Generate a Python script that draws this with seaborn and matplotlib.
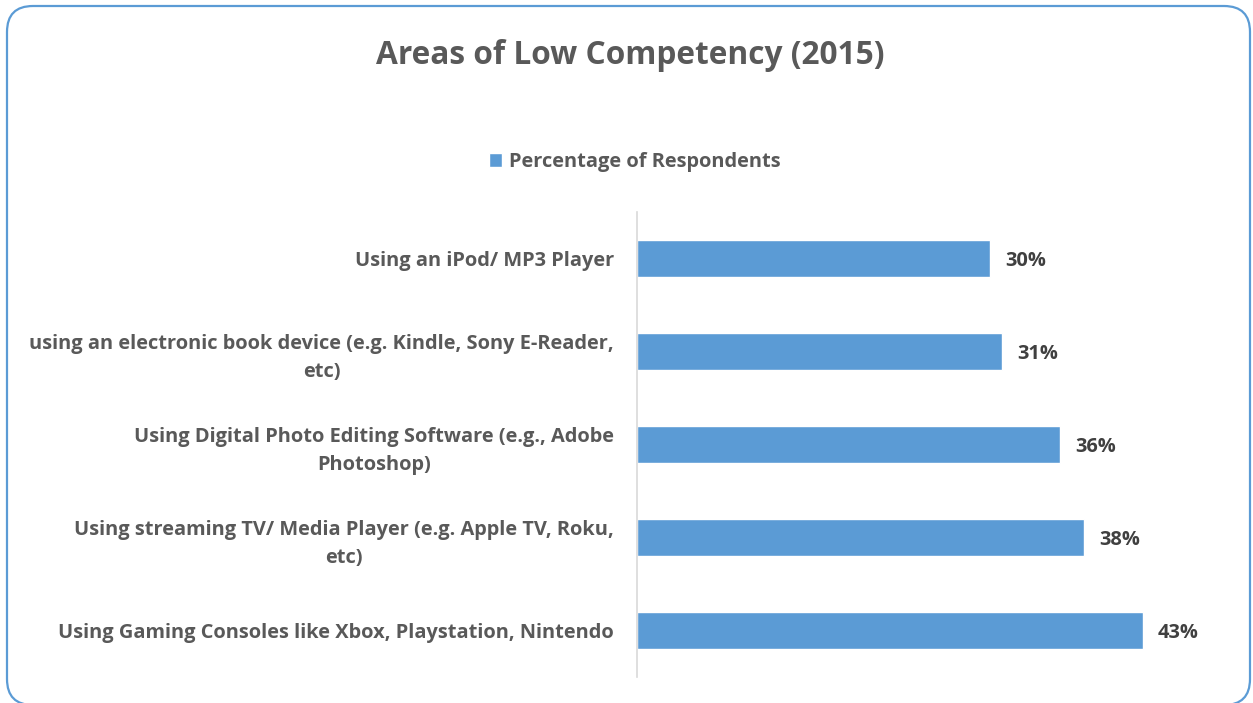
import matplotlib
matplotlib.use("Agg")
import matplotlib.pyplot as plt
from matplotlib.patches import FancyBboxPatch
from matplotlib.transforms import IdentityTransform
import seaborn as sns
import pandas as pd

categories = [
    "Using an iPod/ MP3 Player",
    "using an electronic book device (e.g. Kindle, Sony E-Reader,\netc)",
    "Using Digital Photo Editing Software (e.g., Adobe\nPhotoshop)",
    "Using streaming TV/ Media Player (e.g. Apple TV, Roku,\netc)",
    "Using Gaming Consoles like Xbox, Playstation, Nintendo",
]
values = [30, 31, 36, 38, 43]
series_name = "Percentage of Respondents"
title = "Areas of Low Competency (2015)"

BAR = "#5b9bd5"
TEXT = "#595959"
VALUE = "#404040"
FONT = ["Open Sans", "DejaVu Sans"]
FS = 14.4

sns.set_theme(style="white")
plt.rcParams["font.family"] = FONT

W, H = 1253, 703
fig = plt.figure(figsize=(W / 100, H / 100), dpi=100)

# rounded chart border
border = FancyBboxPatch((7, -2), 1243, 699,
                        boxstyle="round,pad=0,rounding_size=26",
                        transform=IdentityTransform(), fill=False,
                        edgecolor=BAR, linewidth=1.6)
fig.patches.append(border)

ax_l, ax_r, ax_t, ax_b = 637, 1225, 212, 677
ax = fig.add_axes([ax_l / W, (H - ax_b) / H, (ax_r - ax_l) / W, (ax_b - ax_t) / H])

df = pd.DataFrame({"category": categories, "value": values})
sns.barplot(data=df, x="value", y="category", orient="h", color=BAR,
            width=0.4, saturation=1, ax=ax, label=series_name)

ax.set_xlim(0, 50)
ax.set_xlabel("")
ax.set_ylabel("")
ax.set_xticks([])
for s in ["top", "right", "bottom"]:
    ax.spines[s].set_visible(False)
ax.spines["left"].set_color("#d9d9d9")
ax.spines["left"].set_linewidth(1.2)
ax.tick_params(axis="y", length=0, pad=16.5)
for lbl in ax.get_yticklabels():
    lbl.set_fontsize(FS)
    lbl.set_fontweight("bold")
    lbl.set_color(TEXT)
    lbl.set_multialignment("center")
    lbl.set_linespacing(1.55)

for i, v in enumerate(values):
    ax.annotate(f"{v}%", xy=(v, i), xytext=(11, -2), textcoords="offset points",
                ha="left", va="center", fontsize=FS, fontweight="bold",
                color=VALUE)

leg = ax.legend(loc="center", bbox_to_anchor=(635 / W, (H - 162) / H),
                bbox_transform=fig.transFigure, frameon=False,
                handlelength=0.65, handleheight=0.65, handletextpad=0.35,
                prop={"family": FONT, "weight": "bold", "size": FS})
for t in leg.get_texts():
    t.set_color(TEXT)

fig.text(630 / W, (H - 55) / H, title, ha="center", va="center",
         fontsize=22.8, fontweight="bold", color=TEXT)

fig.savefig("out.png", dpi=100)
